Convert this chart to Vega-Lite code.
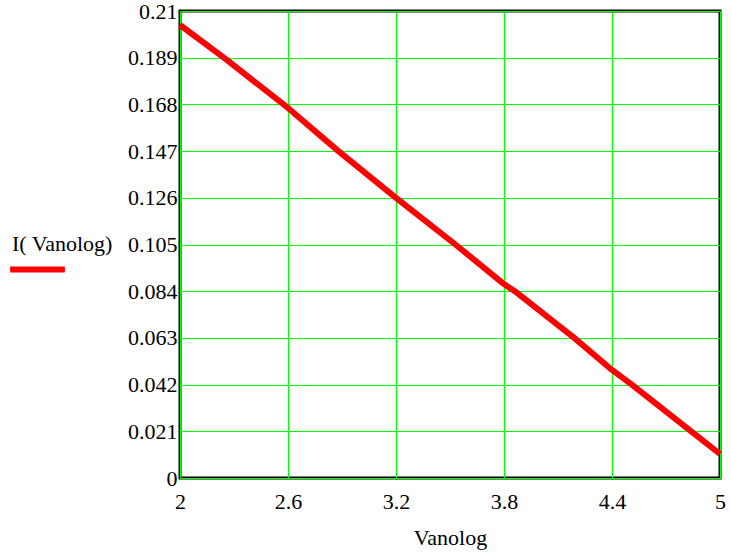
{
  "$schema": "https://vega.github.io/schema/vega-lite/v6.json",
  "width": 540,
  "height": 467,
  "autosize": {"type": "none"},
  "padding": {"left": 180, "top": 11, "right": 11, "bottom": 78},
  "background": "white",
  "config": {
    "view": {"stroke": "black", "strokeWidth": 3},
    "font": "Liberation Serif"
  },
  "data": {
    "values": [
      {"Vanolog": 2.0, "I": 0.2037},
      {"Vanolog": 2.26, "I": 0.188},
      {"Vanolog": 2.6, "I": 0.1664},
      {"Vanolog": 2.88, "I": 0.147},
      {"Vanolog": 3.2, "I": 0.126},
      {"Vanolog": 3.53, "I": 0.105},
      {"Vanolog": 3.8, "I": 0.0872},
      {"Vanolog": 3.86, "I": 0.084},
      {"Vanolog": 4.19, "I": 0.063},
      {"Vanolog": 4.4, "I": 0.0486},
      {"Vanolog": 4.51, "I": 0.042},
      {"Vanolog": 4.84, "I": 0.021},
      {"Vanolog": 5.0, "I": 0.0108}
    ]
  },
  "mark": {"type": "line", "strokeWidth": 6, "strokeCap": "butt", "strokeJoin": "round"},
  "encoding": {
    "x": {
      "field": "Vanolog",
      "type": "quantitative",
      "scale": {"domain": [2, 5], "nice": false, "zero": false},
      "axis": {
        "title": "Vanolog",
        "titleFont": "Liberation Serif",
        "titleFontSize": 22,
        "titleFontWeight": "normal",
        "titleColor": "black",
        "titlePadding": 15,
        "values": [2, 2.6, 3.2, 3.8, 4.4, 5],
        "labelExpr": "format(datum.value, '.1~f')",
        "labelFont": "Liberation Serif",
        "labelFontSize": 22,
        "labelColor": "black",
        "labelAlign": "center",
        "labelDx": 5,
        "labelPadding": 13,
        "labelFlush": false,
        "labelOverlap": false,
        "ticks": false,
        "domain": false,
        "grid": true,
        "gridColor": "#00ff00",
        "gridWidth": 1.2,
        "gridOpacity": 1
      }
    },
    "y": {
      "field": "I",
      "type": "quantitative",
      "scale": {"domain": [0, 0.21], "nice": false},
      "axis": {
        "title": null,
        "values": [0, 0.021, 0.042, 0.063, 0.084, 0.105, 0.126, 0.147, 0.168, 0.189, 0.21],
        "labelExpr": "format(datum.value, '.3~f')",
        "labelFont": "Liberation Serif",
        "labelFontSize": 22,
        "labelColor": "black",
        "labelBaseline": "middle",
        "labelDy": 5,
        "labelPadding": 3,
        "labelFlush": false,
        "labelOverlap": false,
        "ticks": false,
        "domain": false,
        "grid": true,
        "gridColor": "#00ff00",
        "gridWidth": 1.2,
        "gridOpacity": 1
      }
    },
    "color": {
      "datum": "I(Vanolog)",
      "type": "nominal",
      "scale": {"range": ["#ff0000"]},
      "legend": {
        "title": "I( Vanolog)",
        "titleFont": "Liberation Serif",
        "titleFontSize": 22,
        "titleFontWeight": "normal",
        "titleColor": "black",
        "titlePadding": -17,
        "orient": "none",
        "legendX": -168,
        "legendY": 223,
        "padding": 0,
        "symbolType": "stroke",
        "symbolSize": 3000,
        "symbolStrokeWidth": 6,
        "symbolOffset": -5,
        "labelExpr": "''",
        "labelFontSize": 1
      }
    }
  }
}
